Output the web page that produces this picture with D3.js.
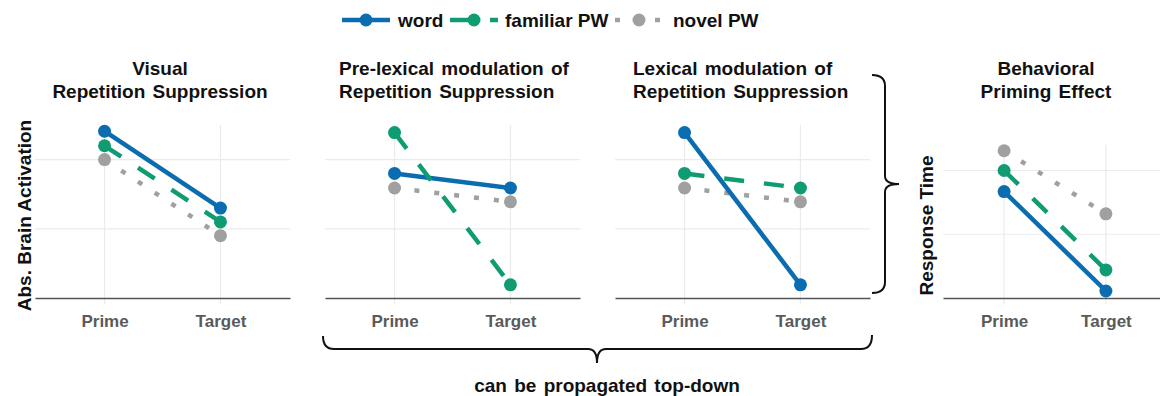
<!DOCTYPE html>
<html>
<head>
<meta charset="utf-8">
<script src="https://cdn.jsdelivr.net/npm/d3@7"></script>
<style>
  body { margin: 0; background: #fff; }
  svg { display: block; font-family: "Liberation Sans", Arial, Helvetica, sans-serif; }
</style>
</head>
<body>
<div id="chart"></div>
<script>
// --- data (arbitrary units) ---
const conditions = ["Prime", "Target"]
const seriesNames = ["word", "familiar PW", "novel PW"]
const panelTitles = [
  ["Visual", "Repetition Suppression"],
  ["Pre-lexical modulation of", "Repetition Suppression"],
  ["Lexical modulation of", "Repetition Suppression"],
  ["Behavioral", "Priming Effect"]
]
const yTitles = ["Abs. Brain Activation", null, null, "Response Time"]
const wordValues     = [[2.41, 1.30], [1.80, 1.59], [2.39, 0.19], [1.67, 0.11]]
const familiarValues = [[2.20, 1.10], [2.39, 0.19], [1.80, 1.59], [2.00, 0.44]]
const novelValues    = [[2.00, 0.90], [1.59, 1.39], [1.59, 1.39], [2.31, 1.32]]
const gridValues = [1, 2]
const bottomNote = "can be propagated top-down"

// --- look ---
const width = 1160, height = 396
const baseY = 298
const colors = { "word": "#0b6db0", "familiar PW": "#0f9c72", "novel PW": "#a0a0a0" }
const dashes = { "word": null, "familiar PW": "20,20", "novel PW": "5,15" }
const lineW = 4.5, pointR = 6.5

// panel boxes (pixels)
const panels = [
  { x0: 35,  x1: 290,  top: 125, ymax: 2.5, titleX: 160,  anchor: "middle", yLabX: 31 },
  { x0: 325, x1: 580,  top: 125, ymax: 2.5, titleX: 339,  anchor: "start" },
  { x0: 615, x1: 870,  top: 125, ymax: 2.5, titleX: 633,  anchor: "start" },
  { x0: 943, x1: 1167, top: 145, ymax: 2.4, titleX: 1046, anchor: "middle", yLabX: 933 }
]

const svg = d3.select("#chart").append("svg")
  .attr("width", width)
  .attr("height", height)

panels.forEach((p, i) => {
  const g = svg.append("g")
  const x = d3.scalePoint().domain(conditions).range([p.x0, p.x1]).padding(0.6)
  const y = d3.scaleLinear().domain([0, p.ymax]).range([baseY, p.top])

  // grid
  g.selectAll(".hgrid").data(gridValues).enter().append("line")
    .attr("x1", p.x0).attr("x2", p.x1)
    .attr("y1", d => y(d)).attr("y2", d => y(d))
    .attr("stroke", "#ebebeb").attr("stroke-width", 1.2)
  g.selectAll(".vgrid").data(conditions).enter().append("line")
    .attr("x1", d => x(d)).attr("x2", d => x(d))
    .attr("y1", p.top).attr("y2", baseY + 6)
    .attr("stroke", "#ebebeb").attr("stroke-width", 1.2)

  // x axis (domain line = baseline)
  const ax = g.append("g")
    .attr("transform", `translate(0,${baseY})`)
    .call(d3.axisBottom(x).tickSize(0).tickPadding(17))
  ax.select(".domain").attr("stroke", "#555").attr("stroke-width", 1.6)
  ax.selectAll(".tick text")
    .attr("fill", "#5a5a5a")
    .style("font-size", "17px")
    .style("font-weight", "bold")
    .style("font-family", "'Liberation Sans', Arial, sans-serif")

  // series, steepest line drawn last
  const series = [
    { name: "word", vals: wordValues[i] },
    { name: "familiar PW", vals: familiarValues[i] },
    { name: "novel PW", vals: novelValues[i] }
  ].sort((a, b) => Math.abs(a.vals[0] - a.vals[1]) - Math.abs(b.vals[0] - b.vals[1]))

  const line = d3.line().x((d, j) => x(conditions[j])).y(d => y(d))
  series.forEach(s => {
    g.append("path")
      .attr("d", line(s.vals))
      .attr("fill", "none")
      .attr("stroke", colors[s.name])
      .attr("stroke-width", lineW)
      .attr("stroke-dasharray", dashes[s.name])
    g.selectAll(null).data(s.vals).enter().append("circle")
      .attr("cx", (d, j) => x(conditions[j]))
      .attr("cy", d => y(d))
      .attr("r", pointR)
      .attr("fill", colors[s.name])
  })

  // title
  const t = g.append("text")
    .attr("x", p.titleX)
    .attr("text-anchor", p.anchor)
    .style("font-size", "19px")
    .style("font-weight", "bold")
    .style("word-spacing", "2px")
    .attr("fill", "#111")
  panelTitles[i].forEach((ln, k) => {
    t.append("tspan").attr("x", p.titleX).attr("y", 75 + k * 22.5).text(ln)
  })

  // y title
  if (yTitles[i]) {
    const cy = (p.top + baseY) / 2 + 4
    g.append("text")
      .attr("transform", `translate(${p.yLabX},${cy}) rotate(-90)`)
      .attr("text-anchor", "middle")
      .style("font-size", "19px")
      .style("font-weight", "bold")
      .attr("fill", "#111")
      .text(yTitles[i])
  }
})

// legend
const legKeyX = [342, 450, 615]
const legTextX = [398, 505, 673]
const legY = 20
const leg = svg.append("g")
seriesNames.forEach((name, i) => {
  leg.append("line")
    .attr("x1", legKeyX[i]).attr("x2", legKeyX[i] + 48)
    .attr("y1", legY).attr("y2", legY)
    .attr("stroke", colors[name])
    .attr("stroke-width", lineW)
    .attr("stroke-dasharray", dashes[name])
  leg.append("circle")
    .attr("cx", legKeyX[i] + 24).attr("cy", legY)
    .attr("r", pointR).attr("fill", colors[name])
  leg.append("text")
    .attr("x", legTextX[i]).attr("y", legY + 7)
    .style("font-size", "19px")
    .style("font-weight", "bold")
    .attr("fill", "#111")
    .text(name)
})

// braces
svg.append("path")
  .attr("d", "M872,75 Q885,75 885,86 L885,176 Q885,184 899,184 Q885,184 885,192 L885,282 Q885,293 872,293")
  .attr("fill", "none").attr("stroke", "#111").attr("stroke-width", 2)
svg.append("path")
  .attr("d", "M323,336 Q323,349 334,349 L588,349 Q597,349 597,363 Q597,349 606,349 L861,349 Q872,349 872,335")
  .attr("fill", "none").attr("stroke", "#111").attr("stroke-width", 2)

svg.append("text")
  .attr("x", 607).attr("y", 392)
  .attr("text-anchor", "middle")
  .style("font-size", "19px")
  .style("font-weight", "bold")
  .style("word-spacing", "2px")
  .attr("fill", "#111")
  .text(bottomNote)
</script>
</body>
</html>
